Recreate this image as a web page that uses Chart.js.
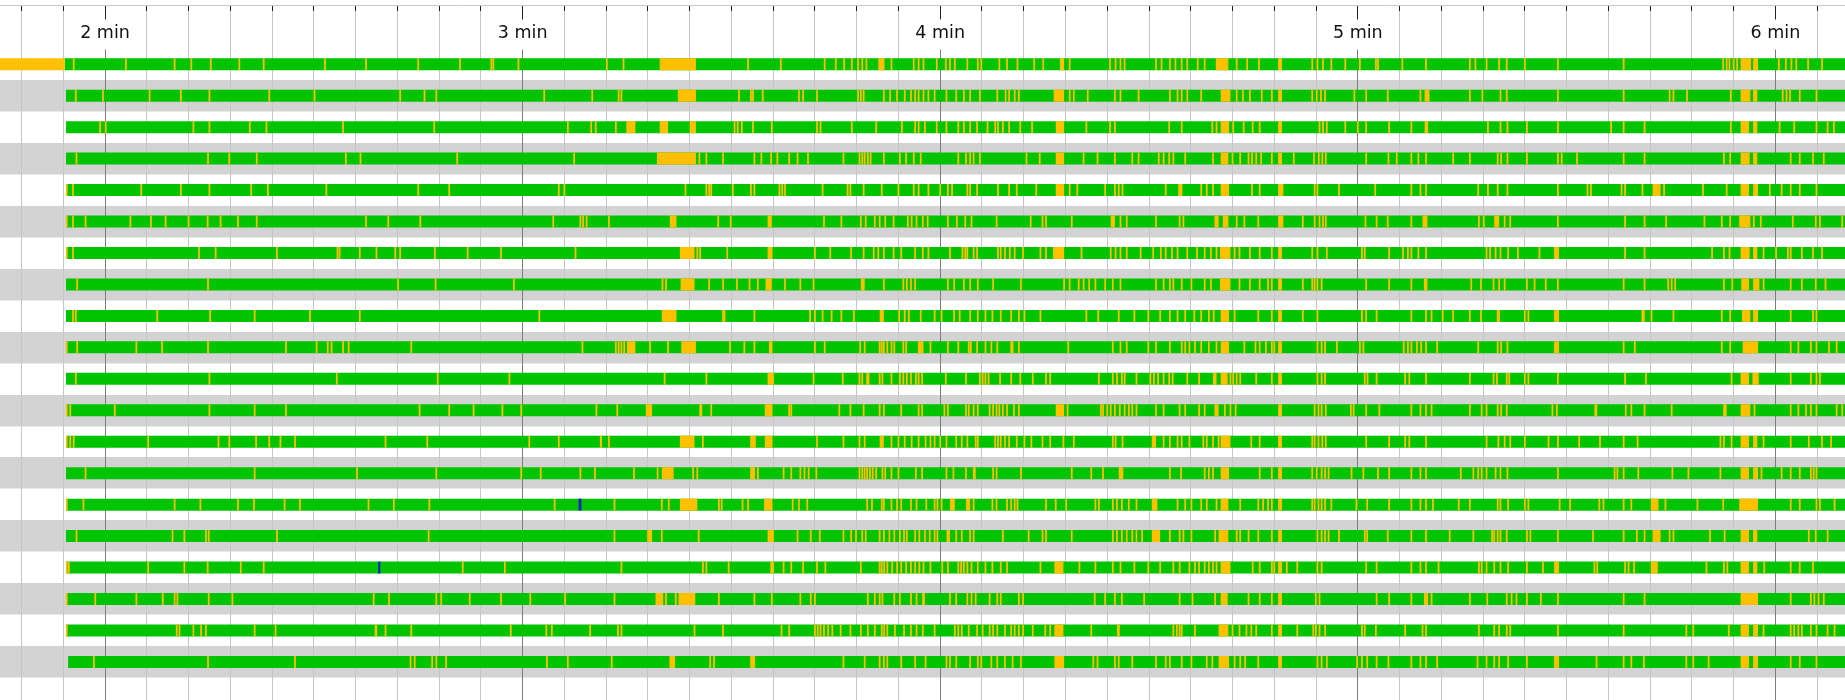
<!DOCTYPE html>
<html>
<head>
<meta charset="utf-8">
<script src="https://cdn.jsdelivr.net/npm/chart.js@4.4.1/dist/chart.umd.min.js"></script>
<style>
html,body{margin:0;padding:0;background:#ffffff;}
#wrap{width:1845px;height:700px;position:relative;}
</style>
</head>
<body>
<div id="wrap"><canvas id="c"></canvas></div>
<script>
// ---- axis data ----
const minuteTicks = [120, 180, 240, 300, 360];
const minuteLabels = ['2 min', '3 min', '4 min', '5 min', '6 min'];
const minorStep = 6;              // seconds between minor grid lines
const timeMin = 104.91;           // seconds at left edge
const timeMax = 370.0;            // seconds at right edge

// ---- lanes ----
const rowStart = [114.2, 114.4, 114.4, 114.4, 114.4, 114.4, 114.4, 114.4, 114.4, 114.4,
                  114.4, 114.4, 114.4, 114.4, 114.4, 114.4, 114.4, 114.4, 114.4, 114.7];
const recordEnd = 372;
const tickDuration = 0.25;        // short events, seconds

// longer yellow/orange spans per lane [start, end] in seconds
const yellowSpans = [
  [[100,114.2],[199.7,204.9],[231.1,232.0],[257.2,257.8],[279.6,281.4],[288.55,289.1],[355.0,356.5],[356.8,357.5]],
  [[202.3,204.9],[256.3,257.8],[280.3,281.7],[288.55,289.1],[309.6,310.3],[355.0,356.4],[356.8,357.4]],
  [[194.9,196.2],[199.7,200.9],[204.0,204.9],[256.6,257.8],[280.3,281.5],[288.55,289.1],[309.6,310.1],[355.0,356.2],[356.8,357.4]],
  [[199.3,204.9],[256.6,257.8],[280.3,281.4],[288.55,289.1],[355.0,356.3],[356.8,357.4]],
  [[256.6,257.8],[274.2,274.8],[280.3,281.5],[288.55,289.3],[342.35,343.5],[355.0,356.2],[356.8,357.5]],
  [[201.15,202.1],[215.2,215.8],[264.5,265.1],[279.4,280.0],[280.6,281.4],[288.55,289.3],[309.3,310.0],[319.6,320.3],[354.8,356.4]],
  [[202.6,204.7],[215.2,215.9],[256.2,257.8],[280.2,281.7],[288.55,289.1],[328.2,328.9],[355.0,356.3],[356.8,357.4]],
  [[202.7,204.7],[214.9,215.8],[228.6,229.15],[280.2,281.7],[288.55,289.1],[309.5,310.0],[355.1,356.2],[356.8,357.7]],
  [[200.0,202.1],[231.3,231.9],[280.3,281.5],[288.55,289.1],[328.2,328.9],[355.2,356.4],[356.8,357.5]],
  [[195.0,196.2],[202.8,204.9],[215.4,215.9],[236.8,237.6],[280.3,281.5],[288.55,289.1],[328.2,328.9],[355.3,357.5]],
  [[215.2,216.1],[279.2,279.7],[280.3,281.3],[288.55,289.1],[355.0,356.2],[356.7,357.6]],
  [[197.7,198.6],[205.4,205.8],[214.8,215.9],[256.6,257.8],[279.4,280.0],[288.55,289.1],[334.0,334.4],[352.5,353.0],[355.0,356.4]],
  [[191.1,191.4],[202.6,204.7],[212.7,213.5],[214.8,215.9],[231.3,231.9],[270.4,271.0],[280.3,281.7],[288.55,289.1],[355.0,356.2],[356.8,357.4]],
  [[200.0,201.7],[212.7,213.4],[244.7,245.1],[265.65,266.3],[280.3,281.5],[288.55,289.1],[355.0,356.2],[356.8,357.5]],
  [[202.6,205.1],[214.7,215.9],[241.4,242.1],[243.7,244.3],[270.4,271.2],[280.3,281.4],[288.55,289.1],[342.1,343.2],[354.8,357.5]],
  [[197.9,198.6],[215.2,216.1],[240.9,241.4],[270.4,271.6],[280.0,281.4],[288.55,289.1],[342.35,343.5],[355.0,356.2],[356.8,357.4]],
  [[215.6,216.1],[256.4,257.7],[280.3,281.7],[288.55,289.1],[328.2,328.9],[342.1,343.1],[355.0,356.2],[356.8,357.4]],
  [[199.1,200.2],[202.4,204.8],[237.4,237.8],[280.3,281.3],[288.55,289.1],[309.5,310.1],[355.0,357.5]],
  [[158.75,159.1],[256.4,257.7],[265.4,265.8],[280.0,281.4],[288.55,289.1],[355.0,356.2],[356.8,357.5]],
  [[201.1,201.9],[212.7,213.4],[256.4,257.8],[280.0,281.5],[288.55,289.1],[328.2,328.9],[355.0,356.2],[356.8,357.5]]
];

// short yellow events per lane (start time, seconds)
const yellowTicks = [
  [115.5,123.0,130.0,132.4,135.2,139.3,142.8,151.6,157.5,165.0,171.0,175.5,175.8,179.4,192.1,194.5,212.4,217.1,223.4,225.0,226.2,227.3,228.2,228.8,229.4,233.0,236.2,236.9,237.6,239.5,240.8,241.4,242.1,243.9,245.4,245.9,248.5,249.6,251.1,253.5,254.8,258.6,264.4,265.2,265.9,266.5,271.0,271.8,273.0,273.8,274.7,275.5,277.0,278.0,282.6,284.1,285.8,293.45,294.2,295.0,296.2,298.2,300.3,302.6,302.9,306.4,309.8,316.1,316.9,318.5,320.3,321.4,324.0,328.75,338.2,352.5,353.0,353.4,354.0,354.5,360.5,361.5,362.3,363.0,364.7,366.7],
  [115.8,119.7,126.4,130.9,135.0,143.6,150.1,162.4,165.9,167.6,183.1,190.0,193.8,194.2,211.1,212.8,213.1,214.5,219.7,220.3,222.3,228.2,228.6,229.0,231.9,232.8,233.8,234.9,235.8,236.4,236.9,237.6,238.3,239.2,240.9,242.3,243.4,244.3,245.7,248.2,249.4,249.9,250.7,251.3,258.6,259.2,261.2,265.1,265.9,268.5,273.0,274.1,274.7,275.5,277.5,282.6,283.5,284.5,286.2,287.65,293.45,294.1,294.7,295.3,299.5,301.2,304.3,309.0,316.1,317.9,320.5,321.4,328.75,338.2,344.8,345.35,347.3,353.6,361.05,361.6,362.1,363.5,365.9],
  [119.3,120.1,132.7,135.0,140.8,143.2,154.2,167.3,186.5,189.85,190.5,193.4,210.45,210.9,211.5,213.1,215.8,222.3,222.8,227.3,230.8,234.5,236.4,236.9,237.8,239.5,240.9,242.6,243.4,244.3,245.3,246.8,247.9,248.3,249.0,249.9,251.5,253.2,261.0,264.4,265.1,272.9,274.7,279.1,279.7,282.1,283.6,284.9,285.9,294.5,295.0,295.55,298.2,300.0,301.2,304.5,307.7,318.7,320.5,321.5,324.3,328.75,336.4,338.2,341.2,353.6,360.6,362.7,365.9,367.5,368.4],
  [115.9,134.8,137.85,141.8,154.6,156.7,170.6,187.4,205.4,206.4,208.8,213.3,214.3,215.7,216.6,218.3,219.5,221.0,226.1,228.4,228.8,229.15,229.6,230.0,231.9,234.2,235.1,236.2,237.2,242.6,243.7,244.3,244.8,245.7,252.4,254.3,260.6,262.6,265.1,267.6,268.5,271.4,272.1,272.9,273.5,275.2,279.2,282.0,283.1,284.3,284.8,285.4,286.1,287.65,290.8,293.7,294.4,294.9,295.4,301.2,304.4,305.6,307.7,308.7,309.8,313.7,316.1,320.1,320.6,321.5,324.3,328.75,329.3,331.5,338.2,341.2,352.6,353.5,362.2,363.5,365.4,366.95],
  [114.5,115.4,125.2,130.9,135.0,141.0,143.4,151.8,165.0,169.45,185.2,186.0,203.4,206.4,206.8,207.1,210.2,212.8,213.3,216.9,217.3,217.7,223.1,226.7,227.1,229.0,231.6,234.0,236.2,236.9,238.3,240.0,241.1,241.7,243.9,244.3,245.3,248.3,249.9,251.0,253.8,258.6,259.7,263.7,265.1,265.65,266.2,272.4,277.5,278.3,279.2,284.8,285.9,293.8,294.2,297.3,302.5,307.7,309.0,309.8,317.3,318.7,320.1,321.5,328.75,333.0,333.5,337.9,338.4,340.9,344.0,349.6,353.0,359.2,360.9,362.2,363.5,365.9],
  [114.5,115.4,117.2,123.65,126.6,128.7,132.0,134.75,136.6,139.1,141.8,157.5,160.7,165.3,184.4,188.3,188.7,189.2,192.4,208.1,209.9,223.3,225.8,228.6,229.3,230.6,231.3,232.1,233.3,235.35,235.9,236.6,237.5,238.2,241.1,242.4,243.6,244.5,248.1,253.0,254.7,255.2,258.9,265.9,266.8,271.0,274.4,274.95,282.6,283.7,285.7,292.1,293.8,294.5,295.0,295.4,301.1,302.7,304.3,307.7,317.4,318.1,321.1,321.9,328.75,338.4,341.2,344.3,349.8,352.3,353.5,356.9,357.9,362.5,365.8,366.4,369.6],
  [114.5,115.4,133.5,135.9,144.7,153.4,153.7,156.6,159.0,161.7,162.4,167.4,172.1,176.9,187.6,205.1,205.5,209.4,222.0,224.2,227.2,229.0,230.45,231.1,231.9,233.3,234.4,236.4,237.5,238.3,241.4,243.2,243.6,243.9,244.8,245.3,248.3,248.7,249.3,250.0,250.7,251.9,254.4,255.2,260.3,264.5,265.2,265.9,266.8,268.8,270.6,271.7,272.4,273.3,274.1,275.5,276.9,278.0,278.9,279.7,282.3,283.0,284.5,285.9,287.65,293.45,294.2,295.55,300.6,301.0,304.5,306.5,307.2,307.7,308.7,309.8,318.5,319.0,319.8,320.5,321.6,323.0,326.1,338.4,341.2,350.9,352.6,353.4,358.3,360.1,361.8,362.2,363.8,365.4,366.7],
  [116.0,134.8,162.1,167.5,178.75,200.1,200.6,206.8,208.8,210.8,212.6,213.8,217.7,219.9,221.8,231.9,234.7,235.2,235.8,236.4,241.1,242.0,243.4,244.3,245.4,247.6,251.6,257.8,258.6,259.9,260.6,261.4,262.3,263.7,264.8,265.9,271.0,272.1,273.0,273.5,274.7,276.1,278.0,278.9,283.0,284.5,285.9,287.1,287.65,292.1,293.45,293.8,294.2,294.8,301.2,304.5,307.7,316.3,317.7,319.5,320.3,321.1,324.3,325.4,327.0,328.75,338.2,341.2,344.6,345.1,345.6,352.6,353.8,358.3,362.2,363.8,365.8,367.2],
  [115.4,115.8,127.5,135.1,141.5,149.45,156.6,182.4,208.8,209.0,213.3,221.3,222.0,223.1,224.4,225.8,227.6,234.1,234.9,235.5,237.2,239.2,240.2,242.0,242.8,244.3,245.4,246.5,247.5,248.7,250.2,251.3,252.1,254.4,261.0,262.7,265.65,267.9,269.9,271.6,273.0,274.1,275.2,276.5,277.5,278.6,279.3,282.3,285.7,287.65,292.1,294.2,300.6,301.2,302.7,307.7,309.8,310.6,312.2,313.7,316.1,317.7,320.1,320.3,324.0,324.5,340.9,341.1,342.2,345.35,352.3,353.5,362.2,365.4,365.9],
  [114.5,116.0,124.5,128.2,134.8,146.0,150.4,152.0,152.55,154.2,155.0,164.0,188.6,193.4,193.8,194.2,194.6,198.3,200.9,209.8,211.85,213.3,222.0,223.4,228.5,229.15,231.3,231.6,231.9,232.4,233.0,233.4,234.7,235.1,238.6,241.1,242.6,244.1,244.4,245.3,246.5,247.35,248.2,250.2,250.4,251.3,258.4,264.8,265.9,266.8,269.9,271.0,273.0,274.7,275.2,275.8,276.6,277.5,278.6,279.7,283.7,285.3,285.9,286.8,287.65,288.0,294.2,294.8,295.3,297.0,300.3,300.8,306.6,307.2,307.7,308.5,309.1,309.8,311.4,317.3,320.1,320.6,321.5,338.2,339.8,352.3,353.5,362.2,363.3,365.1,365.9,367.7,368.8],
  [115.8,135.0,153.3,167.8,178.1,200.4,206.4,221.8,226.0,228.4,228.8,229.5,229.7,231.3,231.7,233.0,234.2,234.7,235.2,235.8,236.5,236.9,237.4,240.8,243.7,245.7,246.1,246.5,246.95,248.6,250.2,251.5,253.3,255.2,255.8,262.8,264.8,265.4,266.1,266.5,268.2,270.2,270.7,271.3,272.1,272.9,273.4,275.5,277.2,281.7,282.1,282.6,283.1,285.4,287.65,294.2,294.8,295.3,301.0,301.4,302.7,306.8,307.4,309.8,316.1,319.5,320.0,321.4,321.75,324.0,324.5,328.75,338.4,341.4,353.7,362.2,365.1,365.9,366.4],
  [114.5,115.0,121.4,135.0,141.5,146.0,165.2,169.45,172.95,177.1,179.8,190.6,193.6,207.1,218.3,218.6,225.5,227.1,229.0,231.3,231.9,234.4,236.9,237.4,240.6,241.1,243.7,244.1,244.8,245.4,247.1,247.6,248.1,248.5,249.0,249.6,250.6,251.3,258.3,263.1,263.4,264.0,264.5,265.1,265.8,266.5,267.1,267.6,268.2,271.0,272.1,274.4,275.2,277.2,278.0,280.9,281.7,282.45,293.8,294.35,294.8,295.4,299.0,299.4,301.2,303.1,307.7,309.0,309.8,310.6,316.1,317.8,318.5,320.1,320.6,321.4,327.96,328.6,338.5,339.3,341.2,345.1,357.0,362.2,363.3,364.4,365.1,365.9,368.8,369.6],
  [114.5,115.0,115.5,126.2,136.3,137.85,141.7,143.6,145.2,147.3,160.3,166.3,180.95,185.2,192.4,205.9,222.3,226.1,228.4,229.15,233.0,234.0,234.9,235.9,236.9,237.9,238.6,239.2,240.0,240.9,242.3,243.1,243.9,245.1,245.4,247.9,248.3,248.7,249.3,249.9,251.0,252.1,253.1,254.7,255.8,257.7,259.2,264.8,265.2,266.2,272.1,273.0,274.1,274.7,275.8,277.8,278.3,279.2,280.0,284.7,285.9,293.45,293.8,294.35,294.9,295.4,301.2,304.5,306.8,307.4,309.8,318.5,320.2,321.1,321.9,324.0,327.4,328.75,331.8,334.8,338.2,340.2,352.1,352.6,353.7,358.3,362.2,364.8,366.7,368.0],
  [117.2,141.5,156.2,167.6,179.8,182.6,188.3,190.4,196.0,199.4,204.5,205.1,213.8,217.5,218.6,219.9,220.5,221.1,222.2,228.4,228.8,229.15,229.5,229.9,230.3,230.8,231.7,232.1,233.0,234.0,236.5,237.4,240.9,241.9,243.7,247.6,248.1,251.6,258.9,261.7,263.4,273.0,274.6,278.0,278.6,279.2,285.9,287.65,293.45,294.1,294.8,295.3,295.8,299.1,300.8,302.9,304.5,307.7,309.0,309.8,314.8,316.6,317.3,317.8,318.5,319.8,320.5,321.5,328.75,336.9,337.3,338.2,340.3,345.2,347.5,352.1,358.0,360.9,362.2,363.5,365.1,365.5,365.9],
  [114.5,116.9,130.0,133.7,139.1,141.4,145.8,148.0,157.85,161.5,166.6,184.6,193.2,200.0,201.0,208.2,208.6,211.6,212.4,218.8,219.7,220.9,229.5,230.2,231.6,231.9,233.0,233.8,234.4,235.8,236.6,238.0,239.2,239.6,240.2,244.8,247.5,248.1,249.6,250.2,250.7,251.1,255.2,256.6,258.1,262.3,262.8,264.8,265.4,266.1,267.1,268.2,274.1,275.2,276.1,277.5,278.3,279.7,283.1,285.7,286.4,287.1,287.65,293.45,293.8,294.35,294.8,295.3,296.2,299.8,301.35,304.5,307.7,309.0,309.8,310.8,314.5,316.1,320.1,320.5,321.6,324.0,324.5,329.0,330.5,334.7,335.3,338.2,339.3,344.2,348.8,352.5,362.2,363.5,365.9,366.4,368.5],
  [115.9,129.7,131.4,134.5,134.9,144.7,166.5,193.2,200.0,205.3,219.5,221.4,222.7,226.1,227.2,227.9,228.8,229.3,231.3,231.9,232.7,233.4,234.2,234.8,235.2,236.4,237.0,237.8,238.5,239.2,239.6,242.3,243.1,244.3,244.8,249.0,252.7,254.7,255.2,258.9,264.8,265.4,266.1,266.8,267.6,268.2,269.0,273.0,274.4,274.95,276.1,279.5,282.6,283.1,284.3,285.7,287.65,294.2,294.8,295.3,295.8,297.3,301.0,301.35,304.3,307.7,309.8,313.2,316.6,319.3,319.6,320.1,320.5,321.4,324.3,324.8,328.75,333.8,338.2,340.1,341.2,344.8,345.35,350.6,352.7,364.8,365.8,367.5],
  [114.5,114.8,126.2,131.4,134.75,139.5,142.8,171.4,177.45,194.2,205.9,206.4,209.6,217.5,218.6,220.3,222.3,223.5,228.6,231.3,231.6,231.95,232.4,233.1,233.8,234.4,235.1,235.8,236.4,237.0,237.6,238.6,240.3,241.1,242.6,243.0,243.4,243.9,244.5,245.4,246.5,247.5,248.7,249.6,254.4,260.0,262.3,264.8,265.9,267.9,269.9,271.6,273.5,274.4,275.8,276.6,277.2,278.0,278.6,279.2,279.7,284.9,285.9,287.65,288.0,289.8,291.3,294.2,294.8,301.2,302.7,307.7,309.0,309.8,311.6,317.4,317.8,318.5,319.6,320.5,321.6,324.3,326.6,334.0,334.4,338.4,338.9,339.7,350.1,352.6,353.1,358.4,362.2,363.5,365.4],
  [114.5,118.6,124.5,128.3,130.0,130.4,134.9,138.3,158.6,160.8,167.6,168.3,172.4,176.9,181.1,186.1,193.2,200.6,202.0,208.2,213.3,215.8,219.9,221.4,222.0,229.6,230.6,231.3,231.7,233.4,234.2,235.8,236.6,241.4,242.3,243.9,244.5,245.1,247.1,248.2,248.7,251.3,251.9,262.2,263.7,265.1,266.1,269.3,274.4,276.25,279.5,284.3,285.9,287.65,293.97,294.5,302.7,304.5,307.7,310.6,316.1,318.6,321.4,322.1,322.8,324.3,326.3,328.75,338.2,341.2,362.2,365.1,365.6,366.2,366.95],
  [114.5,130.3,130.7,132.7,133.8,134.5,141.5,144.5,160.3,164.0,178.3,183.4,184.2,189.7,193.7,194.2,204.7,208.8,217.2,218.3,222.0,222.4,222.8,223.3,223.9,224.5,225.7,227.1,228.6,229.6,230.6,231.6,231.95,232.4,233.5,234.8,235.8,236.6,237.5,239.2,242.1,242.6,243.1,244.1,245.3,246.1,247.1,247.6,248.2,249.3,250.2,250.7,251.3,251.9,253.3,255.1,255.8,261.7,273.5,274.0,274.4,274.7,276.6,282.0,283.0,284.0,284.7,285.4,287.65,291.3,293.6,293.97,294.5,295.3,300.6,301.0,302.6,306.8,309.3,309.8,317.4,319.6,320.3,321.4,321.9,328.75,338.2,347.2,348.2,353.3,358.3,362.2,362.7,363.3,363.8,365.1,365.9,367.5,368.5],
  [118.4,134.8,147.3,163.9,164.5,167.0,167.6,169.0,183.5,186.5,192.8,206.95,207.5,226.1,229.15,231.3,231.9,232.4,234.4,236.4,237.9,240.9,241.4,242.3,244.3,245.4,245.9,247.35,248.2,249.3,250.4,251.6,262.0,262.6,265.1,265.65,267.6,271.0,272.4,273.0,274.7,276.1,278.3,279.1,282.3,283.1,283.8,285.7,294.2,294.8,295.55,299.9,300.6,301.35,302.7,304.4,307.7,309.0,309.8,311.4,317.2,318.5,319.6,320.3,321.6,324.3,334.3,338.2,339.3,341.1,347.2,348.2,350.4,362.2,363.5,365.9]
];

// blue markers [lane, start, end]
const blueMarks = [[14, 188.05, 188.45], [16, 159.25, 159.55]];

// ---- styling ----
const GREEN = '#00c400';
const YELLOW = '#ffc000';
const BLUE = '#1020c0';
const BAND = '#d3d3d3';
const rowPitchPx = 31.46;
const yMin = -1.882;
const yMax = 20.21;

// ---- build datasets from the arrays ----
const laneIdx = rowStart.map((_, i) => i);
const greenData = rowStart.map((s, i) => ({x: [s, recordEnd], y: i}));
const yellowData = [];
yellowSpans.forEach((spans, i) => spans.forEach(sp => yellowData.push({x: [sp[0], sp[1]], y: i})));
yellowTicks.forEach((ts, i) => ts.forEach(t => yellowData.push({x: [t - tickDuration / 2, t + tickDuration / 2], y: i})));
const blueData = blueMarks.map(b => ({x: [b[1], b[2]], y: b[0]}));

const barCommon = {barThickness: 12, maxBarThickness: 12, grouped: false, borderWidth: 0, inflateAmount: 0, borderSkipped: false};

new Chart(document.getElementById('c'), {
  type: 'bar',
  data: {
    datasets: [
      Object.assign({label: 'blue', data: blueData, backgroundColor: BLUE, order: 0}, barCommon),
      Object.assign({label: 'yellow', data: yellowData, backgroundColor: YELLOW, order: 1}, barCommon),
      Object.assign({label: 'green', data: greenData, backgroundColor: GREEN, order: 2}, barCommon)
    ]
  },
  options: {
    indexAxis: 'y',
    responsive: true,
    maintainAspectRatio: false,
    animation: false,
    events: [],
    layout: {padding: {top: 5, left: 0, right: 0, bottom: 0}},
    plugins: {legend: {display: false}, tooltip: {enabled: false}},
    scales: {
      y: {
        type: 'linear', min: yMin, max: yMax, reverse: true, offset: false,
        afterBuildTicks: s => { s.ticks = laneIdx.map(v => ({value: v})); },
        afterFit: s => { s.width = 0; },
        ticks: {display: false},
        grid: {
          offset: false,
          color: c => (c.tick && c.tick.value % 2 === 1) ? BAND : 'rgba(0,0,0,0)',
          lineWidth: rowPitchPx, drawTicks: false, z: -2
        },
        border: {display: false}
      },
      xMinor: {
        type: 'linear', min: timeMin, max: timeMax, offset: false,
        position: {y: yMin},
        afterBuildTicks: s => {
          const arr = [];
          for (let v = Math.ceil(timeMin / minorStep) * minorStep; v <= timeMax; v += minorStep) arr.push({value: v});
          s.ticks = arr;
        },
        ticks: {display: false},
        grid: {
          color: c => (c.tick && minuteTicks.includes(c.tick.value)) ? 'rgba(0,0,0,0)' : '#c6c6c6',
          tickColor: c => (c.tick && minuteTicks.includes(c.tick.value)) ? 'rgba(0,0,0,0)' : '#222',
          lineWidth: 1, tickLength: 6, z: -1
        },
        border: {display: false}
      },
      x: {
        type: 'linear', min: timeMin, max: timeMax, offset: false,
        position: {y: yMin},
        afterBuildTicks: s => { s.ticks = minuteTicks.map(v => ({value: v})); },
        ticks: {
          callback: (v, i) => minuteLabels[i],
          font: {family: 'DejaVu Sans', size: 17.5},
          color: '#111',
          padding: 3.5,
          maxRotation: 0, autoSkip: false,
          showLabelBackdrop: true, backdropColor: '#ffffff',
          backdropPadding: {top: 3, bottom: 6, left: 2, right: 2}
        },
        grid: {color: '#7d7d7d', tickColor: '#222', lineWidth: 1, tickLength: 14, z: -1},
        border: {display: true, color: '#c8c8c8', width: 1}
      }
    }
  }
});
</script>
</body>
</html>
